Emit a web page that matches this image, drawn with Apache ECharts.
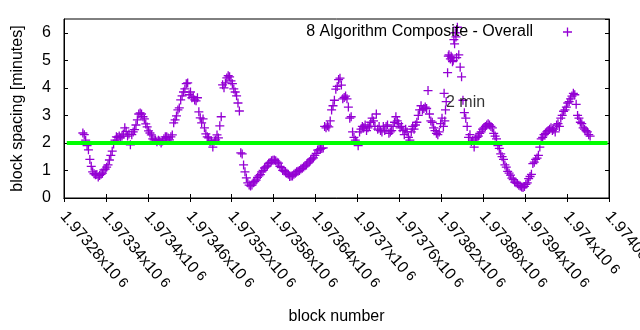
<!DOCTYPE html>
<html><head><meta charset="utf-8">
<script src="https://cdn.jsdelivr.net/npm/echarts@6/dist/echarts.min.js"></script>
<style>html,body{margin:0;padding:0;background:#fff}#c{width:640px;height:330px}</style>
</head><body><div id="c"></div>
<script>
const seriesName = '8 Algorithm Composite - Overall';
const xTitle = 'block number';
const yTitle = 'block spacing [minutes]';
const xTickValues = [1973280,1973340,1973400,1973460,1973520,1973580,1973640,1973700,1973760,1973820,1973880,1973940,1974000,1974060];
const xTickLabels = ['1.97328','1.97334','1.9734','1.97346','1.97352','1.97358','1.97364','1.9737','1.97376','1.97382','1.97388','1.97394','1.974','1.97406'];
const xTickExponent = '6';
const yTickLabels = ['0','1','2','3','4','5','6'];
const targetBlocks = [1973284, 1974058];
const targetValues = [2, 2];
const annotationText = '2 min';
const annotationBlock = 1973826;
const annotationValue = 3.48;
const spacingPoints = [
[1973307,2.36],[1973309,2.3],[1973311,2.1],[1973313,1.9],[1973315,1.75],[1973317,1.4],[1973319,1.15],[1973321,0.95],[1973323,0.88],[1973325,0.84],
[1973327,0.85],[1973329,0.76],[1973331,0.82],[1973333,0.86],[1973335,0.9],[1973337,1.02],[1973339,1.05],[1973341,1.12],[1973343,1.2],[1973345,1.38],
[1973347,1.55],[1973349,1.7],[1973351,1.96],[1973353,2.1],[1973355,2.22],[1973357,2.2],[1973359,2.25],[1973361,2.18],[1973363,2.25],[1973365,2.32],
[1973367,2.55],[1973369,2.42],[1973371,2.25],[1973373,2.32],[1973375,1.93],[1973377,2.3],[1973379,2.4],[1973381,2.48],[1973383,2.65],[1973385,2.84],
[1973387,3.05],[1973389,3.09],[1973391,3.05],[1973393,2.95],[1973395,2.87],[1973397,2.69],[1973399,2.58],[1973401,2.44],[1973403,2.36],[1973405,2.29],
[1973407,2.15],[1973409,2.11],[1973411,2.11],[1973413,2.04],[1973415,2.1],[1973417,2.07],[1973419,2.0],[1973421,2.07],[1973423,2.15],[1973425,2.22],
[1973427,2.22],[1973429,2.18],[1973431,2.11],[1973433,2.22],[1973435,2.29],[1973437,2.73],[1973439,2.84],[1973441,2.98],[1973443,3.2],[1973445,3.27],
[1973447,3.56],[1973449,3.71],[1973451,3.85],[1973453,3.96],[1973455,4.15],[1973457,4.18],[1973459,3.75],[1973461,3.85],[1973463,3.64],[1973465,3.67],
[1973467,3.56],[1973469,3.53],[1973471,3.64],[1973473,3.13],[1973475,2.91],[1973477,2.73],[1973479,2.87],[1973481,2.55],[1973483,2.33],[1973485,2.22],
[1973487,2.18],[1973489,2.04],[1973491,2.07],[1973493,1.85],[1973495,2.07],[1973497,2.11],[1973499,2.29],[1973501,2.18],[1973503,2.62],[1973505,2.95],
[1973507,4.11],[1973509,4.0],[1973511,4.18],[1973513,4.36],[1973515,4.44],[1973517,4.4],[1973519,4.25],[1973521,4.15],[1973523,3.96],[1973525,3.85],
[1973527,3.71],[1973529,3.45],[1973531,3.16],[1973533,1.64],[1973535,1.6],[1973537,1.2],[1973539,0.95],[1973541,0.73],[1973543,0.55],[1973545,0.47],
[1973547,0.44],[1973549,0.47],[1973551,0.55],[1973553,0.6],[1973555,0.65],[1973557,0.75],[1973559,0.8],[1973561,0.85],[1973563,0.95],[1973565,1.0],
[1973567,1.09],[1973569,1.13],[1973571,1.17],[1973573,1.26],[1973575,1.29],[1973577,1.35],[1973579,1.37],[1973581,1.38],[1973583,1.35],[1973585,1.3],
[1973587,1.27],[1973589,1.15],[1973591,1.1],[1973593,1.0],[1973595,0.98],[1973597,0.95],[1973599,0.9],[1973601,0.86],[1973603,0.78],[1973605,0.8],
[1973607,0.8],[1973609,0.86],[1973611,0.9],[1973613,0.95],[1973615,0.97],[1973617,1.0],[1973619,1.05],[1973621,1.08],[1973623,1.13],[1973625,1.17],
[1973627,1.2],[1973629,1.27],[1973631,1.31],[1973633,1.38],[1973635,1.42],[1973637,1.46],[1973639,1.55],[1973641,1.62],[1973643,1.74],[1973645,1.76],
[1973647,1.78],[1973649,1.8],[1973651,1.82],[1973653,2.6],[1973655,2.55],[1973657,2.62],[1973659,2.58],[1973661,2.8],[1973663,3.2],[1973665,3.35],
[1973667,3.55],[1973669,3.95],[1973671,4.05],[1973673,4.3],[1973675,4.35],[1973677,4.1],[1973679,3.6],[1973681,3.65],[1973683,3.7],[1973685,3.6],
[1973687,3.3],[1973689,2.9],[1973691,2.95],[1973693,2.4],[1973695,2.2],[1973697,2.1],[1973699,2.05],[1973701,1.9],[1973703,2.4],[1973705,2.5],
[1973707,2.6],[1973709,2.55],[1973711,2.65],[1973713,2.45],[1973715,2.55],[1973717,2.6],[1973719,2.75],[1973721,2.9],[1973723,2.8],[1973725,2.6],
[1973727,3.05],[1973729,2.5],[1973731,2.6],[1973733,2.45],[1973735,2.4],[1973737,2.6],[1973739,2.45],[1973741,2.6],[1973743,2.65],[1973745,2.35],
[1973747,2.4],[1973749,2.45],[1973751,2.6],[1973753,2.75],[1973755,2.95],[1973757,2.8],[1973759,2.7],[1973761,2.55],[1973763,2.6],[1973765,2.45],
[1973767,2.3],[1973769,2.5],[1973771,2.4],[1973773,2.2],[1973775,2.1],[1973777,2.4],[1973779,2.6],[1973781,2.5],[1973783,2.65],[1973785,2.75],
[1973787,3.0],[1973789,3.2],[1973791,3.35],[1973793,3.2],[1973795,3.25],[1973797,3.3],[1973799,3.25],[1973801,3.9],[1973803,3.05],[1973805,2.8],
[1973807,2.75],[1973809,2.55],[1973811,2.45],[1973813,2.35],[1973815,2.3],[1973817,2.4],[1973819,2.7],[1973821,2.9],[1973823,2.6],[1973824,3.8],[1973825,2.8],
[1973826,3.2],[1973827,3.5],[1973829,4.55],[1973830,5.15],[1973831,5.2],[1973833,5.05],[1973834,5.15],[1973835,5.1],[1973836,4.95],[1973837,5.0],[1973838,5.75],
[1973839,5.6],[1973840,6.0],[1973841,5.85],[1973842,5.1],[1973843,6.2],[1973845,5.2],[1973847,4.75],[1973849,4.4],[1973851,3.55],[1973853,3.1],
[1973855,2.9],[1973857,2.6],[1973859,2.2],[1973861,2.3],[1973863,2.05],[1973865,2.1],[1973867,1.85],[1973869,2.15],[1973871,2.2],[1973873,2.25],
[1973875,2.35],[1973877,2.4],[1973879,2.5],[1973881,2.55],[1973883,2.6],[1973885,2.65],[1973887,2.7],[1973889,2.65],[1973891,2.6],[1973893,2.55],
[1973895,2.35],[1973897,2.25],[1973899,2.15],[1973901,1.9],[1973903,1.8],[1973905,1.6],[1973907,1.5],[1973909,1.4],[1973911,1.2],[1973913,1.12],
[1973915,0.97],[1973917,0.9],[1973919,0.83],[1973921,0.72],[1973923,0.67],[1973925,0.58],[1973927,0.55],[1973929,0.52],[1973931,0.46],[1973933,0.44],
[1973935,0.4],[1973937,0.38],[1973939,0.42],[1973941,0.5],[1973943,0.55],[1973945,0.7],[1973947,0.78],[1973949,0.86],[1973951,1.25],[1973953,1.3],
[1973955,1.4],[1973957,1.45],[1973959,1.55],[1973961,1.85],[1973963,2.15],[1973965,2.2],[1973967,2.3],[1973969,2.35],[1973971,2.4],[1973973,2.45],
[1973975,2.5],[1973977,2.55],[1973979,2.45],[1973981,2.5],[1973983,2.4],[1973985,2.65],[1973987,2.7],[1973989,2.6],[1973991,2.9],[1973993,3.0],
[1973995,3.15],[1973997,3.2],[1973999,3.3],[1974001,3.45],[1974003,3.5],[1974005,3.6],[1974007,3.7],[1974009,3.8],[1974011,3.75],[1974013,3.4],
[1974015,3.0],[1974017,2.9],[1974019,2.75],[1974021,2.7],[1974023,2.55],[1974025,2.5],[1974027,2.45],[1974029,2.4],[1974031,2.3],[1974033,2.25]
];

const FONT = "'Liberation Sans', Arial, sans-serif";
const PLUS = 'path://M3.85,0h1.3v3.85h3.85v1.3h-3.85v3.85h-1.3v-3.85h-3.85v-1.3h3.85z';
const xMin = xTickValues[0], xMax = xTickValues[xTickValues.length - 1];
const xStep = xTickValues[1] - xTickValues[0];

function xLabel(v) {
  const i = xTickValues.indexOf(Math.round(v));
  if (i < 0) return '';
  return '{m|' + xTickLabels[i] + 'x10}{s|' + xTickExponent + '}';
}

const chart = echarts.init(document.getElementById('c'), null, {renderer: 'canvas'});
const axisCommon = {
  axisLine: {show: true, lineStyle: {color: '#000', width: 1}},
  axisTick: {show: true, inside: true, length: 4, lineStyle: {color: '#000', width: 1}},
  splitLine: {show: false}
};
chart.setOption({
  animation: false,
  backgroundColor: '#fff',
  textStyle: {fontFamily: FONT},
  grid: {left: 64, right: 31, top: 19, bottom: 132, outerBoundsMode: 'none', containLabel: false,
         show: true, borderColor: '#000', borderWidth: 1},
  legend: {
    data: [{name: seriesName, icon: PLUS}],
    right: 68, top: 24, align: 'right', orient: 'horizontal', padding: 0,
    itemWidth: 9, itemHeight: 9, selectedMode: false,
    textStyle: {fontFamily: FONT, fontSize: 16, color: '#000', padding: [0, 25, 0, 0]}
  },
  xAxis: [
    Object.assign({}, axisCommon, {
      type: 'value', position: 'bottom', min: xMin, max: xMax, interval: xStep,
      name: xTitle, nameLocation: 'middle', nameGap: 111,
      nameTextStyle: {fontFamily: FONT, fontSize: 16, color: '#000'},
      axisLabel: {show: true, rotate: -50, margin: 15, padding: [2, 0, 0, 0], showMinLabel: true, showMaxLabel: true,
        hideOverlap: false, formatter: xLabel, color: '#000', fontFamily: FONT, fontSize: 16,
        rich: {m: {fontFamily: FONT, fontSize: 16, color: '#000'},
               s: {fontFamily: FONT, fontSize: 14, color: '#000', padding: [0, 0, 0, 4], verticalAlign: 'top'}}}
    }),
    Object.assign({}, axisCommon, {
      type: 'value', position: 'top', min: xMin, max: xMax, interval: xStep,
      axisLabel: {show: false}
    })
  ],
  yAxis: [
    Object.assign({}, axisCommon, {
      type: 'value', position: 'left', min: 0, max: 6.5, interval: 1,
      name: yTitle, nameLocation: 'middle', nameGap: 38,
      nameTextStyle: {fontFamily: FONT, fontSize: 16, color: '#000'},
      axisLabel: {show: true, margin: 13, showMaxLabel: false, fontFamily: FONT, fontSize: 16, color: '#000',
        formatter: function (v) { const i = Math.round(v); return (Math.abs(v - i) < 1e-9 && i < yTickLabels.length) ? yTickLabels[i] : ''; }}
    }),
    Object.assign({}, axisCommon, {
      type: 'value', position: 'right', min: 0, max: 6.5, interval: 1,
      axisLabel: {show: false}
    })
  ],
  series: [
    {
      name: seriesName, type: 'scatter', xAxisIndex: 0, yAxisIndex: 0,
      symbol: PLUS, symbolSize: 9,
      itemStyle: {color: '#9400d3', opacity: 1},
      emphasis: {disabled: true},
      data: spacingPoints
    },
    {
      name: 'target', type: 'line', xAxisIndex: 0, yAxisIndex: 0,
      symbol: 'none', silent: true,
      lineStyle: {color: '#00ff00', width: 4, cap: 'butt'},
      data: targetBlocks.map((b, i) => [b, targetValues[i]])
    },
    {
      name: 'annotation', type: 'scatter', xAxisIndex: 0, yAxisIndex: 0,
      symbolSize: 1, itemStyle: {color: 'rgba(0,0,0,0)'}, silent: true, z: 5,
      label: {show: true, position: 'right', distance: 0, formatter: annotationText,
        fontFamily: FONT, fontSize: 16, color: '#000'},
      data: [[annotationBlock, annotationValue]]
    }
  ]
});
</script>
</body></html>
